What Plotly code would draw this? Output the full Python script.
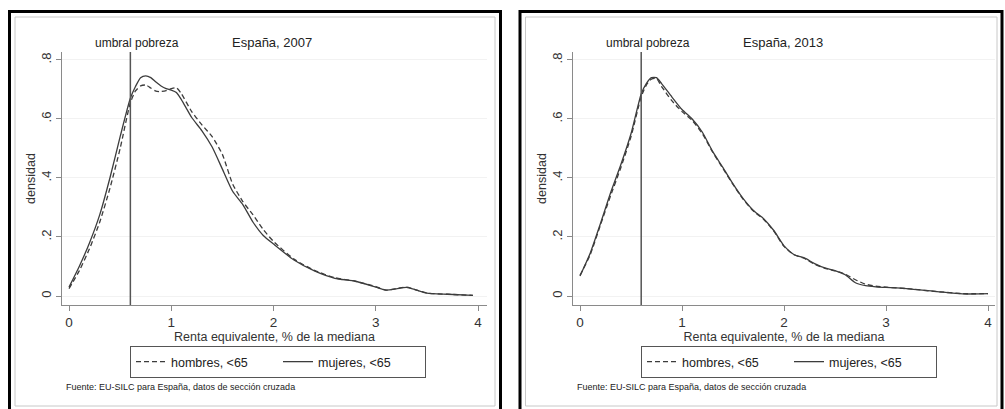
import plotly.graph_objects as go

# ---------------- data ----------------
POVERTY_LINE = 0.6
PANEL_TITLES = ["España, 2007", "España, 2013"]
SERIES_NAMES = ["hombres, <65", "mujeres, <65"]
X_TICKS = [0, 1, 2, 3, 4]
Y_TICKS = [0, 0.2, 0.4, 0.6, 0.8]
Y_TICK_LABELS = ["0", ".2", ".4", ".6", ".8"]

x_2007 = [0.0, 0.1, 0.2, 0.3, 0.4, 0.5, 0.6, 0.65, 0.7, 0.75, 0.8, 0.85, 0.9, 0.95, 1.0, 1.05,
          1.1, 1.2, 1.3, 1.4, 1.5, 1.6, 1.7, 1.8, 1.9, 2.0, 2.2, 2.4, 2.6, 2.8, 3.0, 3.1,
          3.2, 3.3, 3.4, 3.5, 3.7, 3.95]
hombres_2007 = [0.025, 0.085, 0.16, 0.25, 0.365, 0.50, 0.655, 0.695, 0.712, 0.715, 0.705, 0.694,
                0.693, 0.696, 0.703, 0.706, 0.685, 0.625, 0.58, 0.54, 0.48, 0.38, 0.32, 0.275,
                0.225, 0.185, 0.125, 0.087, 0.062, 0.05, 0.032, 0.02, 0.025, 0.03, 0.02, 0.01,
                0.006, 0.002]
mujeres_2007 = [0.03, 0.10, 0.18, 0.275, 0.40, 0.54, 0.67, 0.71, 0.74, 0.746, 0.74, 0.725,
                0.712, 0.703, 0.698, 0.69, 0.665, 0.605, 0.56, 0.505, 0.43, 0.355, 0.31, 0.25,
                0.205, 0.176, 0.122, 0.085, 0.06, 0.05, 0.03, 0.02, 0.024, 0.029, 0.02, 0.01,
                0.006, 0.002]

x_2013 = [0.0, 0.1, 0.2, 0.3, 0.4, 0.5, 0.6, 0.65, 0.7, 0.75, 0.8, 0.9, 1.0, 1.1, 1.2, 1.3,
          1.4, 1.5, 1.6, 1.7, 1.8, 1.9, 2.0, 2.1, 2.2, 2.3, 2.4, 2.5, 2.6, 2.7, 2.8, 2.9,
          3.0, 3.2, 3.5, 3.75, 4.0]
hombres_2013 = [0.07, 0.14, 0.24, 0.34, 0.435, 0.54, 0.675, 0.715, 0.735, 0.737, 0.71, 0.662,
                0.625, 0.595, 0.55, 0.488, 0.433, 0.378, 0.328, 0.288, 0.26, 0.22, 0.168,
                0.14, 0.127, 0.108, 0.094, 0.085, 0.074, 0.055, 0.04, 0.033, 0.03, 0.025,
                0.015, 0.008, 0.008]
mujeres_2013 = [0.068, 0.145, 0.245, 0.35, 0.445, 0.55, 0.685, 0.72, 0.74, 0.74, 0.72, 0.675,
                0.632, 0.60, 0.555, 0.49, 0.436, 0.38, 0.33, 0.29, 0.262, 0.222, 0.17,
                0.14, 0.129, 0.11, 0.095, 0.086, 0.072, 0.045, 0.035, 0.031, 0.029, 0.025,
                0.015, 0.007, 0.008]

SOURCE = "Fuente: EU-SILC para España, datos de sección cruzada"
X_TITLE = "Renta equivalente, % de la mediana"
Y_TITLE = "densidad"
VLINE_LABEL = "umbral pobreza"

# ---------------- layout helpers ----------------
W, H = 1005, 409
FONT = "Liberation Sans, Arial, sans-serif"
LINE_COLOR = "#3c3c3c"
AXIS_COLOR = "#8a8a8a"


def px(v):
    return v / W


def py(v):
    return 1 - v / H


fig = go.Figure()

panels = [
    dict(x=x_2007, h=hombres_2007, m=mujeres_2007, off=0, xr=[-0.0686, 4.088], dom=(62, 487),
         frame=(9.5, 500.5), inner=(15, 495), legend="legend"),
    dict(x=x_2013, h=hombres_2013, m=mujeres_2013, off=511, xr=[-0.0686, 4.0686], dom=(573, 995),
         frame=(520, 1002), inner=(525.5, 997), legend="legend2"),
]

layout = dict(
    width=W, height=H,
    margin=dict(l=0, r=0, t=0, b=0),
    paper_bgcolor="white", plot_bgcolor="white",
    font=dict(family=FONT, color="#222"),
    showlegend=True,
    shapes=[], annotations=[],
)

for i, p in enumerate(panels):
    sfx = "" if i == 0 else "2"
    xa, ya = "x" + sfx, "y" + sfx
    fig.add_trace(go.Scatter(x=p["x"], y=p["h"], mode="lines", name=SERIES_NAMES[0],
                             line=dict(color=LINE_COLOR, width=1.3, dash="5px,3px", shape="spline",
                                       smoothing=0.6),
                             xaxis=xa, yaxis=ya, legend=p["legend"]))
    fig.add_trace(go.Scatter(x=p["x"], y=p["m"], mode="lines", name=SERIES_NAMES[1],
                             line=dict(color=LINE_COLOR, width=1.3, shape="spline", smoothing=0.6),
                             xaxis=xa, yaxis=ya, legend=p["legend"]))

    layout["xaxis" + sfx] = dict(
        domain=[px(p["dom"][0]), px(p["dom"][1])], range=p["xr"], anchor=ya,
        showline=True, linecolor=AXIS_COLOR, linewidth=1.2,
        ticks="outside", ticklen=5, tickcolor=AXIS_COLOR, tickwidth=1.2,
        tickvals=X_TICKS, tickfont=dict(size=13.5, color="#333"),
        showgrid=False, zeroline=False, fixedrange=True,
        title=dict(text=X_TITLE, font=dict(size=12.5, color="#333"), standoff=0),
    )
    layout["yaxis" + sfx] = dict(
        domain=[py(305), py(52)], range=[-0.0305, 0.827], anchor=xa,
        showline=True, linecolor=AXIS_COLOR, linewidth=1.2,
        ticks="outside", ticklen=5, tickcolor=AXIS_COLOR, tickwidth=1.2,
        tickvals=Y_TICKS, ticktext=Y_TICK_LABELS, tickangle=-90,
        tickfont=dict(size=13, color="#333"),
        showgrid=True, gridcolor="#f2f2f2", zeroline=False, fixedrange=True,
        title=dict(text=Y_TITLE, font=dict(size=12.5, color="#333"), standoff=0),
    )

    off = p["off"]
    # outer black frame and inner grey frame
    layout["shapes"].append(dict(type="rect", xref="paper", yref="paper",
                                 x0=px(p["frame"][0]), x1=px(p["frame"][1]), y0=py(420), y1=py(11.5),
                                 line=dict(color="black", width=3), fillcolor="rgba(0,0,0,0)"))
    layout["shapes"].append(dict(type="rect", xref="paper", yref="paper",
                                 x0=px(p["inner"][0]), x1=px(p["inner"][1]), y0=py(406), y1=py(17),
                                 line=dict(color="#c8c8c8", width=1), fillcolor="rgba(0,0,0,0)"))
    # poverty line
    layout["shapes"].append(dict(type="line", xref=xa, yref=ya + " domain",
                                 x0=POVERTY_LINE, x1=POVERTY_LINE, y0=0, y1=1,
                                 line=dict(color="#555", width=1.5)))
    layout["annotations"].append(dict(text=VLINE_LABEL, xref=xa, yref="paper",
                                      x=POVERTY_LINE, y=py(43), xshift=7, showarrow=False,
                                      xanchor="center", yanchor="middle",
                                      font=dict(size=12, color="#222")))
    layout["annotations"].append(dict(text=PANEL_TITLES[i], xref="paper", yref="paper",
                                      x=px(272 + off), y=py(43), showarrow=False,
                                      xanchor="center", yanchor="middle",
                                      font=dict(size=13, color="#222")))
    layout["annotations"].append(dict(text=SOURCE, xref="paper", yref="paper",
                                      x=px(64 + off), y=py(387), showarrow=False,
                                      xanchor="left", yanchor="middle",
                                      font=dict(size=9, color="#222")))
    layout[p["legend"]] = dict(
        x=px(130 + off), y=py(346), xanchor="left", yanchor="top",
        orientation="h", bordercolor="#555", borderwidth=1, bgcolor="white",
        font=dict(size=12.5, color="#222"), entrywidth=102, entrywidthmode="pixels",
        itemclick=False, itemdoubleclick=False,
    )

fig.update_layout(**layout)
fig.write_html("out.html",
               post_script="document.body.style.margin='0';document.body.style.overflow='hidden';")
